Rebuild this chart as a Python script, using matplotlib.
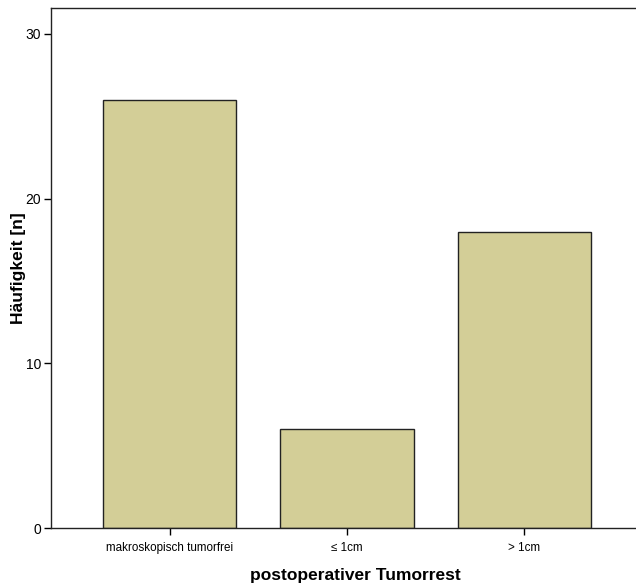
import matplotlib.pyplot as plt

# data
categories = ['makroskopisch tumorfrei', '≤ 1cm', '> 1cm']
counts = [26, 6, 18]
yticks = [0, 10, 20, 30]

plt.rcParams['font.family'] = ['Liberation Sans', 'DejaVu Sans']

fig = plt.figure(figsize=(6.36, 5.87), dpi=100)
ax = fig.add_axes([51 / 636, 59 / 587, 592 / 636, 520.5 / 587])

x = range(len(categories))
ax.bar(x, counts, width=0.75, color='#d3ce97', edgecolor='#222222', linewidth=1.0)

ax.set_xlim(-0.668, 2.668)
ax.set_ylim(0, 31.6)
ax.set_yticks(yticks)
ax.set_xticks(list(x))
ax.set_xticklabels(categories, fontsize=8.4)
ax.tick_params(axis='y', labelsize=10, length=5, width=1, pad=2)
ax.tick_params(axis='x', length=5, width=1, pad=5)

for s in ax.spines.values():
    s.set_linewidth(1.0)
    s.set_color('#222222')

ax.set_ylabel('Häufigkeit [n]', fontsize=12.5, fontweight='bold')
ax.yaxis.set_label_coords(-25 / 592, 0.5)
ax.set_xlabel('postoperativer Tumorrest', fontsize=12.5, fontweight='bold')
ax.xaxis.set_label_coords(304 / 592, -40 / 520.5)

fig.savefig('out.png', dpi=100)
